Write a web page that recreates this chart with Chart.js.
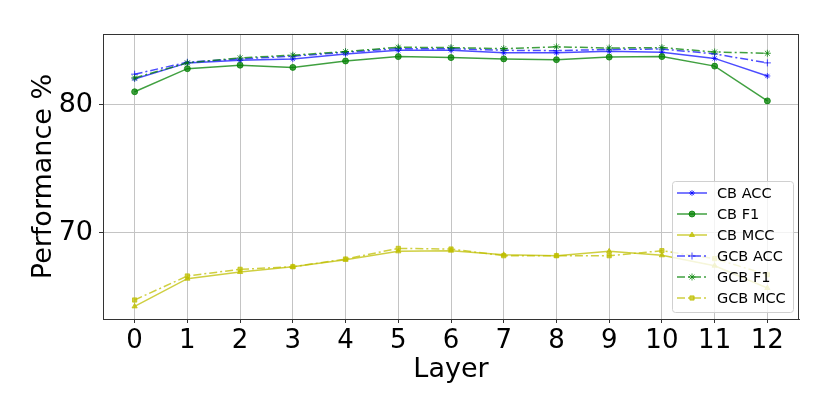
<!DOCTYPE html>
<html>
<head>
<meta charset="utf-8">
<script src="https://cdn.jsdelivr.net/npm/chart.js@4.4.0/dist/chart.umd.min.js"></script>
<style>
  html, body { margin: 0; padding: 0; background: #fff; }
  #wrap { width: 830px; height: 415px; }
</style>
</head>
<body>
<div id="wrap"><canvas id="perfChart" width="830" height="415"></canvas></div>
<script>
const layers = [0, 1, 2, 3, 4, 5, 6, 7, 8, 9, 10, 11, 12]
const yTicks = [70, 80]

const cbAcc  = [82.0, 83.25, 83.45, 83.56, 83.95, 84.23, 84.23, 84.03, 84.03, 84.16, 84.08, 83.6, 82.23]
const cbF1   = [81.0, 82.8, 83.07, 82.9, 83.4, 83.74, 83.66, 83.56, 83.5, 83.7, 83.74, 83.0, 80.29]
const cbMcc  = [64.28, 66.44, 66.96, 67.37, 67.92, 68.57, 68.62, 68.3, 68.23, 68.57, 68.26, 67.45, 65.71]
const gcbAcc = [82.37, 83.3, 83.56, 83.77, 84.08, 84.36, 84.36, 84.23, 84.2, 84.3, 84.33, 83.95, 83.25]
const gcbF1  = [82.08, 83.25, 83.64, 83.85, 84.13, 84.47, 84.44, 84.36, 84.5, 84.41, 84.44, 84.1, 84.0]
const gcbMcc = [64.78, 66.65, 67.17, 67.37, 67.97, 68.8, 68.75, 68.23, 68.23, 68.23, 68.62, 68.0, 66.75]

const BLUE = 'rgba(0, 0, 255, 0.7)'
const GREEN = 'rgba(0, 128, 0, 0.75)'
const YELLOW = 'rgba(191, 191, 0, 0.75)'
const DASHDOT = [8, 3, 2, 3]

const toPoints = function (values) {
    return layers.map((l, i) => ({ x: l, y: values[i] }))
}

const makeSet = function (label, values, color, style, radius, dash) {
    return {
        label: label,
        data: toPoints(values),
        borderColor: color,
        backgroundColor: color,
        borderWidth: 1.5,
        borderDash: dash,
        pointStyle: style,
        pointRadius: radius,
        pointBorderWidth: 1,
        pointBorderColor: color,
        pointBackgroundColor: color,
        tension: 0
    }
}

const datasets = [
    makeSet('CB ACC', cbAcc, BLUE, 'star', 3, []),
    makeSet('CB F1', cbF1, GREEN, 'circle', 3, []),
    makeSet('CB MCC', cbMcc, YELLOW, 'triangle', 3, []),
    makeSet('GCB ACC', gcbAcc, BLUE, 'cross', 3.5, DASHDOT),
    makeSet('GCB F1', gcbF1, GREEN, 'star', 3.5, DASHDOT),
    makeSet('GCB MCC', gcbMcc, YELLOW, 'rect', 3, DASHDOT)
]
// matplotlib draws later lines on top
datasets.forEach((d, i) => { d.order = datasets.length - i })

// top and right spines + legend box in the lower right corner
const framePlugin = {
    id: 'frame',
    afterDraw(chart) {
        const ctx = chart.ctx
        const a = chart.chartArea
        ctx.save()
        ctx.strokeStyle = '#333'
        ctx.lineWidth = 1
        ctx.strokeRect(a.left + 0.5, a.top + 0.5, a.right - a.left - 1, a.bottom - a.top)

        const bx = 672, by = 181, bw = 121, bh = 131
        ctx.beginPath()
        ctx.roundRect(bx + 0.5, by + 0.5, bw, bh, 3)
        ctx.fillStyle = 'rgba(255, 255, 255, 0.8)'
        ctx.fill()
        ctx.strokeStyle = '#d0d0d0'
        ctx.stroke()

        ctx.font = '14.5px "DejaVu Sans"'
        ctx.textBaseline = 'middle'
        ctx.textAlign = 'left'
        datasets.forEach((d, i) => {
            const y = by + 12 + i * 21
            ctx.strokeStyle = d.borderColor
            ctx.fillStyle = d.borderColor
            ctx.lineWidth = 1.5
            ctx.setLineDash(d.borderDash)
            ctx.beginPath()
            ctx.moveTo(677, y)
            ctx.lineTo(707, y)
            ctx.stroke()
            ctx.setLineDash([])
            ctx.lineWidth = 1
            Chart.helpers.drawPoint(ctx, {
                pointStyle: d.pointStyle,
                radius: d.pointRadius,
                rotation: 0,
                borderWidth: 1
            }, 692, y)
            ctx.fillStyle = '#000'
            ctx.fillText(d.label, 717, y + 1)
        })
        ctx.restore()
    }
}

const config = {
    type: 'line',
    data: { datasets: datasets },
    plugins: [framePlugin],
    options: {
        responsive: false,
        animation: false,
        layout: { padding: { top: 34, right: 31, left: 0, bottom: 0 } },
        plugins: {
            legend: { display: false },
            tooltip: { enabled: false }
        },
        scales: {
            x: {
                type: 'linear',
                min: -0.6,
                max: 12.6,
                afterBuildTicks: (scale) => { scale.ticks = layers.map(v => ({ value: v })) },
                afterFit: (scale) => { scale.height = 96 },
                ticks: {
                    color: '#000',
                    padding: 3,
                    font: { family: 'DejaVu Sans', size: 26 }
                },
                grid: { color: '#c4c4c4', lineWidth: 1, tickLength: 4, tickColor: '#333' },
                border: { color: '#333', width: 1 },
                title: {
                    display: true,
                    text: 'Layer',
                    color: '#000',
                    font: { family: 'DejaVu Sans', size: 27, lineHeight: 1.2 },
                    padding: { top: 0, bottom: 29 }
                }
            },
            y: {
                type: 'linear',
                min: 63.3,
                max: 85.5,
                afterBuildTicks: (scale) => { scale.ticks = yTicks.map(v => ({ value: v })) },
                afterFit: (scale) => { scale.width = 103 },
                ticks: {
                    color: '#000',
                    padding: 6,
                    font: { family: 'DejaVu Sans', size: 27 }
                },
                grid: { color: '#c4c4c4', lineWidth: 1, tickLength: 4, tickColor: '#333' },
                border: { color: '#333', width: 1 },
                title: {
                    display: true,
                    text: 'Performance %',
                    color: '#000',
                    font: { family: 'DejaVu Sans', size: 27, lineHeight: 1.2 },
                    padding: { top: 28, bottom: 0 }
                }
            }
        }
    }
}

const perfChart = new Chart(document.getElementById('perfChart'), config)
</script>
</body>
</html>
